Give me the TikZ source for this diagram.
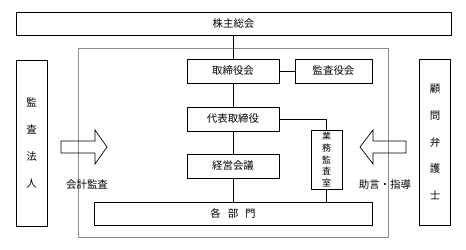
\documentclass[tikz,border=0pt]{standalone}
\usepackage{fontspec}
\usepackage{tikz}
\usetikzlibrary{positioning,arrows.meta,calc}
\newfontfamily\jpfont{Noto Sans CJK JP}

\begin{document}
\begin{tikzpicture}[x=1bp,y=-1bp,font=\jpfont\fontsize{10.5}{12}\selectfont,
  b/.style={draw,line width=0.8bp,inner sep=0pt,align=center},
  vt/.style={b,minimum width=31bp,minimum height=166bp,align=center},
  hollow/.style={draw,line width=0.7bp,line join=miter}]
  \useasboundingbox (0,0) rectangle (466,249);
  % frame round the company
  \node[draw=black!45,line width=0.8bp,minimum width=310bp,minimum height=189bp,inner sep=0pt] (frame) at (233,142.5) {};
  \node[b,minimum width=435bp,minimum height=23bp] (gm) at (233.5,23.5) {株主総会};
  \node[b,minimum width=92bp,minimum height=24bp] (tb) at (233,71) {取締役会};
  \node[b,minimum width=77bp,minimum height=24bp] (ka) at (333.5,71) {監査役会};
  \node[b,minimum width=92bp,minimum height=24bp] (dt) at (233,119) {代表取締役};
  \node[b,minimum width=92bp,minimum height=24bp] (kk) at (233,166) {経営会議};
  \node[b,minimum width=31bp,minimum height=59bp,font=\jpfont\fontsize{9}{11.6}\selectfont] (gk) at (326.5,159.5) {業\\務\\監\\査\\室};
  \node[b,minimum width=278bp,minimum height=23bp] (bm) at (233,213.5) {各\hspace{7bp}部\hspace{7bp}門};
  \node[vt,font=\jpfont\fontsize{10.5}{27}\selectfont] (ho) at (31.5,143) {監\\査\\法\\人};
  \node[vt,font=\jpfont\fontsize{10.5}{27}\selectfont] (bg) at (435,142) {顧\\問\\弁\\護\\士};
  \node (kl) at (87,185) {会計監査};
  \node (jl) at (385,185) {助言・指導};
  % lines
  \draw[line width=0.8bp] (tb.north) -- (tb.north |- gm.south);
  \draw[line width=0.8bp] (tb.east) -- (ka.west);
  \draw[line width=0.8bp] (tb) -- (dt);
  \draw[line width=0.8bp] (dt) -- (kk);
  \draw[line width=0.8bp] (kk.south) -- (kk.south |- bm.north);
  \draw[line width=0.8bp] (dt.east) -| (gk.north);
  \draw[line width=0.8bp] (gk.south) -- (gk.south |- bm.north);
  % hollow arrows
  \draw[hollow] (61,141) -- (95,141) -- (95,130) -- (107,147) -- (95,164) -- (95,153) -- (61,153) -- cycle;
  \draw[hollow] (406,141) -- (373,141) -- (373,130) -- (360,147) -- (373,164) -- (373,153) -- (406,153) -- cycle;
\end{tikzpicture}
\end{document}
